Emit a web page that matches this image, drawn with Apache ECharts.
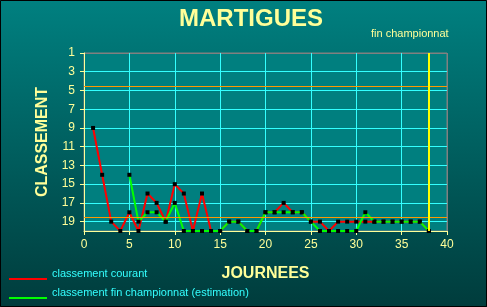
<!DOCTYPE html>
<html>
<head>
<meta charset="utf-8">
<script src="https://cdn.jsdelivr.net/npm/echarts@6/dist/echarts.min.js"></script>
<style>
html,body{margin:0;padding:0;background:#004040;}
#c{width:487px;height:307px;}
</style>
</head>
<body>
<div id="c"></div>
<script>
var journees = [1,2,3,4,5,6,7,8,9,10,11,12,13,14,15,16,17,18,19,20,21,22,23,24,25,26,27,28,29,30,31,32,33,34,35,36,37,38];
var classementCourant = [9,14,19,20,18,20,16,17,19,15,16,20,16,20,20,19,19,20,20,18,18,17,18,18,19,19,20,19,19,19,19,19,19,19,19,19,19,20];
var classementFin = [null,null,null,null,14,19,18,18,19,17,20,20,20,20,20,19,19,20,20,18,18,18,18,18,19,20,20,20,20,20,18,19,19,19,19,19,19,20];
var yTicks = [1,3,5,7,9,11,13,15,17,19];
var xTicks = [0,5,10,15,20,25,30,35,40];
var seuils = [4.5, 18.5];
var finJournee = 38;
var nomCourant = 'classement courant';
var nomFin = 'classement fin championnat (estimation)';

function pairs(vals){
  var out = [];
  journees.forEach(function(d,i){ if (vals[i] != null) out.push([d, vals[i]]); });
  return out;
}

var chart = echarts.init(document.getElementById('c'), null, {renderer:'canvas'});
var fy = '#ffff99';
var ff = 'Liberation Sans, Arial';
var xSplit = xTicks.map(function(v,i){ return i === xTicks.length-1 ? '#808080' : '#33ffff'; });
var ySplit = yTicks.map(function(v,i){ return i === 0 ? '#808080' : '#33ffff'; }).concat(['#ffff99']);

function legendFor(name, color, top){
  return {
    orient:'horizontal', left:4, top:top, itemWidth:38, itemHeight:14, padding:5,
    icon:'path://M0 0 L0.01 0 L0.01 0.01 Z M0 11 L38 11 L38 13 L0 13 Z M37.99 14 L38 14 L38 13.99 Z',
    textStyle:{color:'#33ffff', fontSize:11, fontFamily:ff},
    data:[{name:name, itemStyle:{color:color}}],
    selectedMode:false
  };
}

chart.setOption({
  animation:false,
  backgroundColor: new echarts.graphic.LinearGradient(0,0,0,1,[{offset:0,color:'#008080'},{offset:1,color:'#003c3c'}]),
  title:[
    {text:'MARTIGUES', left:251, top:7, textAlign:'center', padding:0, textStyle:{color:fy, fontSize:24, fontWeight:'bold', fontFamily:ff}},
    {text:'fin championnat', left:371, top:28, padding:0, textStyle:{color:fy, fontSize:11, fontWeight:'normal', fontFamily:ff}}
  ],
  legend:[legendFor(nomCourant, '#ff0000', 262), legendFor(nomFin, '#00ff00', 281)],
  grid:{left:84, right:40, top:53, bottom:76, show:true, backgroundColor:'#007f7f', borderColor:'#808080', borderWidth:1},
  xAxis:{
    type:'value', min:0, max:40, interval:5,
    name:'JOURNEES', nameLocation:'middle', nameGap:35,
    nameTextStyle:{color:fy, fontSize:16, fontWeight:'bold', fontFamily:ff},
    axisLine:{lineStyle:{color:fy, width:1}},
    axisTick:{show:true, length:4, lineStyle:{color:fy}},
    axisLabel:{color:fy, fontSize:12, margin:8, fontFamily:ff},
    splitLine:{show:true, lineStyle:{color:xSplit, width:1}}
  },
  yAxis:{
    type:'value', inverse:true, min:1, max:20, interval:2,
    name:'CLASSEMENT', nameLocation:'middle', nameGap:33, nameRotate:90,
    nameTextStyle:{color:fy, fontSize:16, fontWeight:'bold', fontFamily:ff},
    axisLine:{lineStyle:{color:fy, width:1}},
    axisTick:{show:true, length:4, lineStyle:{color:fy}},
    axisLabel:{color:fy, fontSize:12, margin:9, showMaxLabel:false, fontFamily:ff},
    splitLine:{show:true, lineStyle:{color:ySplit, width:1}}
  },
  graphic:[{type:'rect', shape:{x:0.5,y:0.5,width:486,height:306}, style:{fill:'none', stroke:'#000', lineWidth:1}, z:100}],
  series:[
    {
      name:nomCourant, type:'line', data:pairs(classementCourant), z:3,
      lineStyle:{color:'#ff0000', width:2}, itemStyle:{color:'#000', borderWidth:0},
      symbol:'rect', symbolSize:4, showAllSymbol:true,
      emphasis:{disabled:true},
      markLine:{
        silent:true, symbol:'none', label:{show:false}, animation:false,
        data:[
          {yAxis:seuils[0], lineStyle:{color:'#ff9900', width:1, type:'solid'}},
          {yAxis:seuils[1], lineStyle:{color:'#ff9900', width:1, type:'solid'}},
          {xAxis:finJournee, lineStyle:{color:'#ffff00', width:2, type:'solid'}}
        ]
      }
    },
    {
      name:nomFin, type:'line', data:pairs(classementFin), z:4,
      lineStyle:{color:'#00ff00', width:2}, itemStyle:{color:'#000', borderWidth:0},
      symbol:'rect', symbolSize:4, showAllSymbol:true,
      emphasis:{disabled:true}
    }
  ]
});
</script>
</body>
</html>
